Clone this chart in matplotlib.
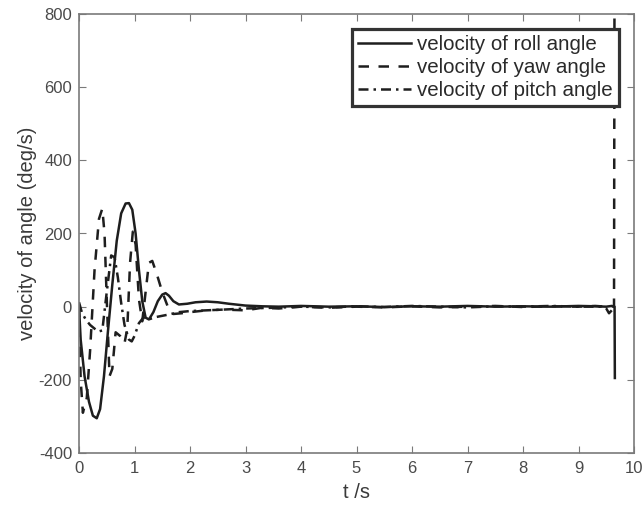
import matplotlib
matplotlib.use("Agg")
import matplotlib.pyplot as plt

plt.rcParams['font.family'] = ['Liberation Sans', 'DejaVu Sans']
plt.rcParams['axes.unicode_minus'] = False

# roll angle velocity (solid)
t_roll = [0, 0.03, 0.1, 0.18, 0.25, 0.32, 0.38, 0.45, 0.52, 0.6, 0.68, 0.76,
          0.84, 0.9, 0.96, 1.02, 1.08, 1.14, 1.2, 1.26, 1.34, 1.42, 1.5, 1.56,
          1.62, 1.7, 1.8, 1.95, 2.1, 2.3, 2.5, 2.7, 3.0, 3.3, 3.6, 4.0, 4.5,
          5.0, 5.5, 6.0, 6.5, 7.0, 7.5, 8.0, 8.5, 9.0, 9.3, 9.5, 9.6, 9.65, 9.655]
v_roll = [0, -90, -190, -260, -298, -305, -280, -190, -70, 60, 180, 255,
          282, 283, 265, 200, 100, 15, -30, -35, -15, 15, 33, 37,
          30, 15, 6, 8, 12, 14, 12, 8, 3, 1, 0, 2, 0,
          1, -1, 1, 0, 2, 0, 1, 0, 2, 1, 0, 2, 0, -195]

# yaw angle velocity (dashed)
t_yaw = [0, 0.03, 0.07, 0.14, 0.2, 0.28, 0.36, 0.42, 0.46, 0.5, 0.55, 0.6,
         0.66, 0.74, 0.82, 0.87, 0.92, 0.97, 1.02, 1.08, 1.14, 1.2, 1.26, 1.32,
         1.4, 1.5, 1.6, 1.7, 1.85, 2.0, 2.3, 2.6, 3.0, 3.3, 3.6, 4.0, 4.5, 5.0,
         5.5, 6.0, 6.5, 7.0, 7.5, 8.0, 8.5, 9.0, 9.3, 9.5, 9.6, 9.64, 9.65]
v_yaw = [0, -200, -290, -250, -120, 100, 240, 268, 200, 20, -190, -170,
         -70, -80, -100, -60, 120, 205, 170, 20, -40, 40, 120, 125,
         90, 40, 0, -20, -18, -15, -10, -8, -10, -3, -5, 0, -3, 0,
         -2, 1, -2, 0, 2, -1, 1, 0, 2, 0, 1, 0, 1000]

# pitch angle velocity (dash-dot)
t_pitch = [0, 0.05, 0.12, 0.2, 0.28, 0.35, 0.42, 0.5, 0.58, 0.64, 0.7, 0.76,
           0.82, 0.9, 0.95, 1.0, 1.08, 1.16, 1.25, 1.4, 1.6, 1.8, 2.0, 2.3,
           2.6, 3.0, 3.5, 4.0, 4.5, 5.0, 5.5, 6.0, 6.5, 7.0, 7.5, 8.0, 8.5,
           9.0, 9.4, 9.5, 9.55, 9.6, 9.65]
v_pitch = [12, -15, -35, -50, -60, -68, -65, 40, 140, 135, 80, 10,
           -50, -90, -95, -80, -45, -30, -35, -28, -22, -15, -12, -10,
           -8, -5, -3, 0, -2, 1, -1, 2, 0, -2, 1, 0, 2,
           0, 0, -5, -18, -10, 0]

xticks = list(range(0, 11))
yticks = list(range(-400, 801, 200))

fig = plt.figure(figsize=(6.43, 5.11), dpi=100)
ax = fig.add_axes([79 / 643, 1 - 453 / 511, 555 / 643, 439 / 511])

lc = '#1e1e1e'
ax.plot(t_roll, v_roll, '-', color=lc, lw=1.8, label='velocity of roll angle')
ax.plot(t_yaw, v_yaw, '--', color=lc, lw=1.8, dashes=(4.2, 3.8), label='velocity of yaw angle')
ax.plot(t_pitch, v_pitch, '-.', color=lc, lw=1.8, dashes=(4, 2, 1, 2), label='velocity of pitch angle')

ax.set_xlim(0, 10)
ax.set_ylim(-400, 800)
ax.set_xticks(xticks)
ax.set_yticks(yticks)

gray = '#7a7a7a'
for s in ax.spines.values():
    s.set_color(gray)
    s.set_linewidth(1.2)
ax.tick_params(direction='in', top=True, right=True, length=5, color=gray,
               labelsize=12, labelcolor='#4a4a4a')
ax.tick_params(axis='x', pad=6)
ax.tick_params(axis='y', pad=5)
ax.set_xlabel('t /s', fontsize=14.5, color='#3a3a3a', labelpad=5)
ax.set_ylabel('velocity of angle (deg/s)', fontsize=14.5, color='#3a3a3a', labelpad=1)

leg = ax.legend(loc='upper right', fontsize=14.8, handlelength=2.6, handletextpad=0.3,
                labelspacing=0.2, borderaxespad=0.72, fancybox=False, framealpha=1,
                borderpad=0.3)
leg.get_frame().set_edgecolor('#333333')
leg.get_frame().set_linewidth(2.3)
for txt in leg.get_texts():
    txt.set_color('#2a2a2a')

fig.savefig('out.png', dpi=100)
